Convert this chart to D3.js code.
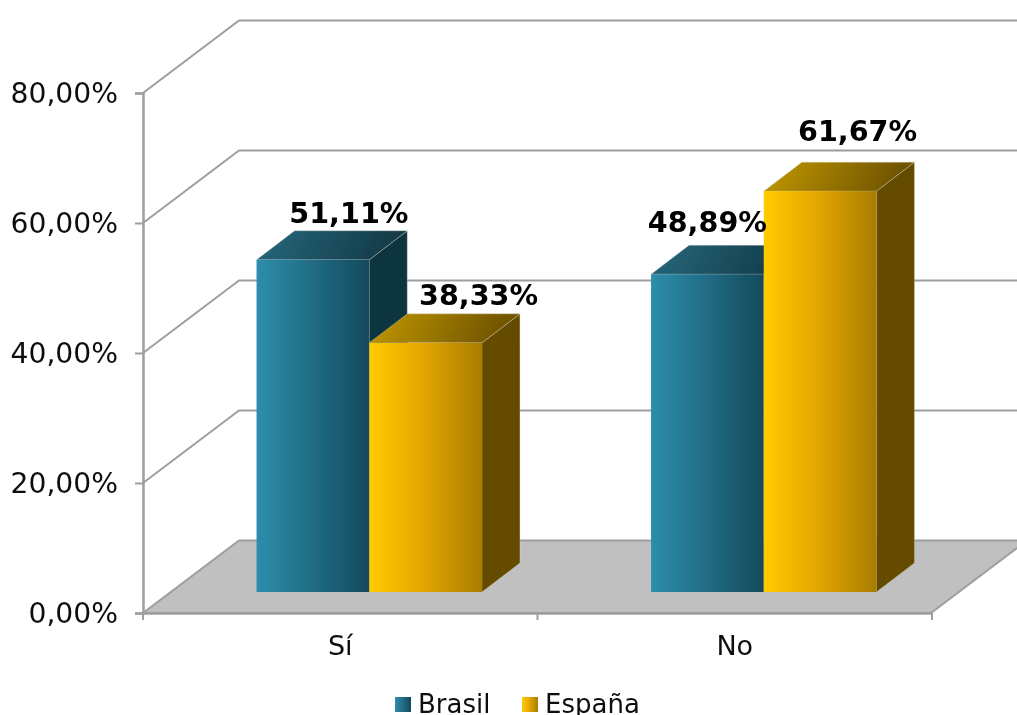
<!DOCTYPE html>
<html><head><meta charset="utf-8">
<script src="https://cdn.jsdelivr.net/npm/d3@7"></script>
<style>html,body{margin:0;padding:0;background:#fff;overflow:hidden}svg{display:block}text{font-family:"DejaVu Sans",Verdana,sans-serif}</style>
</head><body><div id="c"></div>
<script>
const categories = ["Sí", "No"];
const seriesNames = ["Brasil", "España"];
const brasil = [51.11, 48.89];
const espana = [38.33, 61.67];
const yTicks = [0, 20, 40, 60, 80];
const labelDx = [[36, 53], [0, 37.5]];
const labelDy = [[-8, -9], [-13, -21]];

const W = 1017, H = 715;
const svg = d3.select("#c").append("svg").attr("width", W).attr("height", H);
const defs = svg.append("defs");
const soft = defs.append("filter").attr("id", "soft").attr("x", "-5%").attr("y", "-5%").attr("width", "110%").attr("height", "110%");
soft.append("feGaussianBlur").attr("stdDeviation", 0.45);

function grad(id, stops, x2, y2) {
  const g = defs.append("linearGradient").attr("id", id).attr("x1", 0).attr("y1", 0).attr("x2", x2).attr("y2", y2);
  stops.forEach(([o, c]) => g.append("stop").attr("offset", o).attr("stop-color", c));
}
grad("fb", [[0, "#2d8eac"], [.45, "#226f88"], [1, "#154a5c"]], 1, 0);
grad("tb", [[0, "#27687d"], [1, "#123845"]], 1, .1);
grad("fe", [[0, "#ffcb00"], [.45, "#e6a800"], [1, "#a87c00"]], 1, 0);
grad("te", [[0, "#c49a00"], [1, "#6a4f00"]], 1, .1);

const y = d3.scaleLinear().domain([0, 80]).range([613, 93]);
const x = d3.scaleBand().domain(categories).range([143, 932]);
const xs = d3.scaleBand().domain(seriesNames).range([0, x.bandwidth()]).paddingInner(0).paddingOuter(.75);
const wallDx = 96, wallDy = -72.5;
const barShiftX = 29, barShiftY = -21;
const barDepthX = 38, barDepthY = -29;
const gridC = "#9e9e9e";

const plot = svg.append("g").attr("filter", "url(#soft)");

// floor
plot.append("path")
  .attr("d", d3.line()([[143, y(0)], [143 + wallDx, y(0) + wallDy], [931 + wallDx, y(0) + wallDy], [931, y(0)]]) + "Z")
  .attr("fill", "#c0c0c0").attr("stroke", gridC).attr("stroke-width", 2);

// grid: side wall + back wall
const grid = plot.append("g").attr("fill", "none").attr("stroke", gridC).attr("stroke-width", 2);
grid.selectAll("path").data(yTicks.slice(1)).join("path")
  .attr("d", d => d3.line()([[143, y(d)], [143 + wallDx, y(d) + wallDy], [931 + wallDx, y(d) + wallDy]]));

// axes
const axY = plot.append("g").attr("transform", "translate(143,0)")
  .call(d3.axisLeft(y).tickValues(yTicks).tickSize(8).tickPadding(17)
    .tickFormat(d => d3.format(".2f")(d).replace(".", ",") + "%"));
const axX = plot.append("g").attr("transform", `translate(0,${y(0)})`)
  .call(d3.axisBottom(x).tickSize(0).tickPadding(23).tickSizeOuter(0));
[axY, axX].forEach(a => {
  a.selectAll(".domain").attr("stroke", gridC).attr("stroke-width", 2.5);
  a.selectAll("line").attr("stroke", gridC).attr("stroke-width", 2);
  a.selectAll("text").attr("fill", "#111").style("font-family", '"DejaVu Sans"');
});
axY.selectAll("text").style("font-size", "28.2px");
axX.selectAll("text").style("font-size", "27px").attr("dy", "0.71em");
plot.append("g").attr("stroke", gridC).attr("stroke-width", 2)
  .selectAll("line").data([143, x(categories[1]), x(categories[1]) + x.bandwidth()]).join("line")
  .attr("x1", d => d).attr("x2", d => d).attr("y1", y(0)).attr("y2", y(0) + 7);

// bars
const rows = [];
categories.forEach((c, i) => {
  rows.push({ c, s: seriesNames[0], v: brasil[i], g: "b", side: "#10343f", i, j: 0 });
  rows.push({ c, s: seriesNames[1], v: espana[i], g: "e", side: "#654b00", i, j: 1 });
});
const bars = plot.append("g").selectAll("g").data(rows).join("g").attr("class", "bar");
const px = d => x(d.c) + xs(d.s) + barShiftX;
const w = xs.bandwidth();
const base = y(0) + barShiftY;
const top_ = d => y(d.v) + barShiftY;
const L = d3.line();
bars.append("path").attr("fill", d => d.side).attr("stroke", "#d8d8c8").attr("stroke-opacity", .5).attr("stroke-width", .7)
  .attr("d", d => L([[px(d) + w, top_(d)], [px(d) + w + barDepthX, top_(d) + barDepthY], [px(d) + w + barDepthX, base + barDepthY], [px(d) + w, base]]) + "Z");
bars.append("path").attr("fill", d => `url(#t${d.g})`).attr("stroke", "#d8d8c8").attr("stroke-opacity", .5).attr("stroke-width", .7)
  .attr("d", d => L([[px(d), top_(d)], [px(d) + barDepthX, top_(d) + barDepthY], [px(d) + w + barDepthX, top_(d) + barDepthY], [px(d) + w, top_(d)]]) + "Z");
bars.append("rect").attr("fill", d => `url(#f${d.g})`)
  .attr("x", px).attr("y", top_).attr("width", w).attr("height", d => base - top_(d));

// value labels
plot.append("g").selectAll("text").data(rows).join("text")
  .attr("text-anchor", "middle")
  .attr("x", d => px(d) + w / 2 + labelDx[d.i][d.j])
  .attr("y", d => top_(d) + barDepthY + labelDy[d.i][d.j])
  .attr("fill", "#000").style("font-size", "28.6px").style("font-weight", "bold")
  .text(d => d3.format(".2f")(d.v).replace(".", ",") + "%");

// legend
const legX = d3.scaleOrdinal().domain(seriesNames).range([395, 522]);
const leg = plot.append("g").selectAll("g").data(seriesNames).join("g")
  .attr("transform", d => `translate(${legX(d)},697)`);
leg.append("rect").attr("width", 16).attr("height", 15).attr("fill", (d, i) => i ? "url(#fe)" : "url(#fb)");
leg.append("text").attr("x", 23).attr("y", 16).attr("fill", "#111").style("font-size", "26px").text(d => d);
</script></body></html>
